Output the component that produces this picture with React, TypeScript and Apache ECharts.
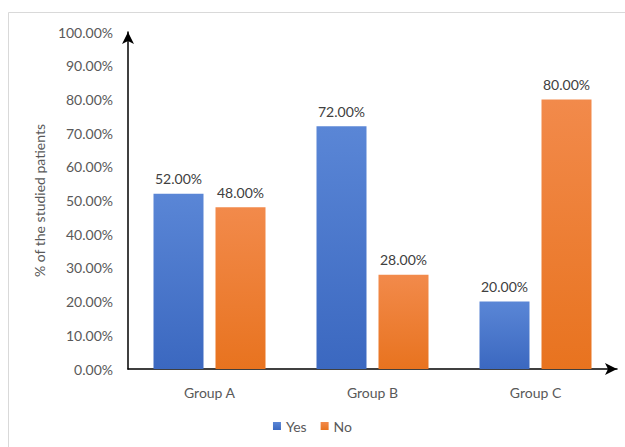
import React, { useEffect, useRef } from "react";
import * as echarts from "echarts";

const categories = ["Group A", "Group B", "Group C"];
const yesValues = [52, 72, 20];
const noValues = [48, 28, 80];
const seriesNames = ["Yes", "No"];
const yAxisTitle = "% of the studied patients";

const FONT = "Lato, 'Open Sans', sans-serif";

export default function App() {
  const ref = useRef<HTMLDivElement>(null);
  useEffect(() => {
    if (!ref.current) return;
    const chart = echarts.init(ref.current, null, { renderer: "svg" });
    const grad = (top: string, bottom: string) =>
      new echarts.graphic.LinearGradient(0, 0, 0, 1, [
        { offset: 0, color: top },
        { offset: 1, color: bottom },
      ]);
    const labelCfg = {
      show: true,
      position: "top",
      distance: 8,
      color: "#404040",
      fontSize: 14,
      fontFamily: FONT,
      formatter: (p: any) => Number(p.value).toFixed(2) + "%",
    };
    chart.setOption({
      animation: false,
      backgroundColor: "#ffffff",
      graphic: [
        {
          type: "rect",
          shape: { x: 8.5, y: 12.5, width: 640, height: 460 },
          style: { fill: "none", stroke: "#d9d9d9", lineWidth: 1 },
          silent: true,
          z: -1,
        },
      ],
      grid: { left: 128, right: 8, top: 32, bottom: 78, containLabel: false },
      legend: {
        bottom: 9,
        left: "center",
        itemWidth: 8,
        itemHeight: 8,
        itemGap: 14,
        icon: "rect",
        textStyle: { color: "#595959", fontSize: 14, fontFamily: FONT },
        data: seriesNames,
      },
      xAxis: {
        type: "category",
        data: categories,
        axisLine: {
          lineStyle: { color: "#000000", width: 1.5 },
          symbol: ["none", "arrow"],
          symbolSize: [9, 12],
        },
        axisTick: { show: false },
        axisLabel: { color: "#595959", fontSize: 14, fontFamily: FONT, margin: 16 },
      },
      yAxis: {
        type: "value",
        min: 0,
        max: 100,
        interval: 10,
        name: yAxisTitle,
        nameLocation: "middle",
        nameGap: 82,
        nameRotate: 90,
        nameTextStyle: { color: "#595959", fontSize: 14, fontFamily: FONT },
        axisLine: {
          show: true,
          lineStyle: { color: "#000000", width: 1.5 },
          symbol: ["none", "arrow"],
          symbolSize: [9, 12],
        },
        axisTick: { show: false },
        splitLine: { show: false },
        axisLabel: {
          color: "#595959",
          fontSize: 14,
          fontFamily: FONT,
          margin: 15,
          formatter: (v: number) => v.toFixed(2) + "%",
        },
      },
      series: [
        {
          name: seriesNames[0],
          type: "bar",
          data: yesValues,
          barWidth: 50,
          barGap: "24%",
          itemStyle: { color: grad("#5a86d6", "#3b68c0") },
          label: labelCfg,
        },
        {
          name: seriesNames[1],
          type: "bar",
          data: noValues,
          barWidth: 50,
          itemStyle: { color: grad("#f28a4b", "#e8731f") },
          label: labelCfg,
        },
      ],
      color: ["#4472c4", "#ed7d31"],
    });
    return () => chart.dispose();
  }, []);
  return (
    <div
      ref={ref}
      style={{ position: "fixed", left: 0, top: 0, width: 625, height: 447 }}
    />
  );
}
